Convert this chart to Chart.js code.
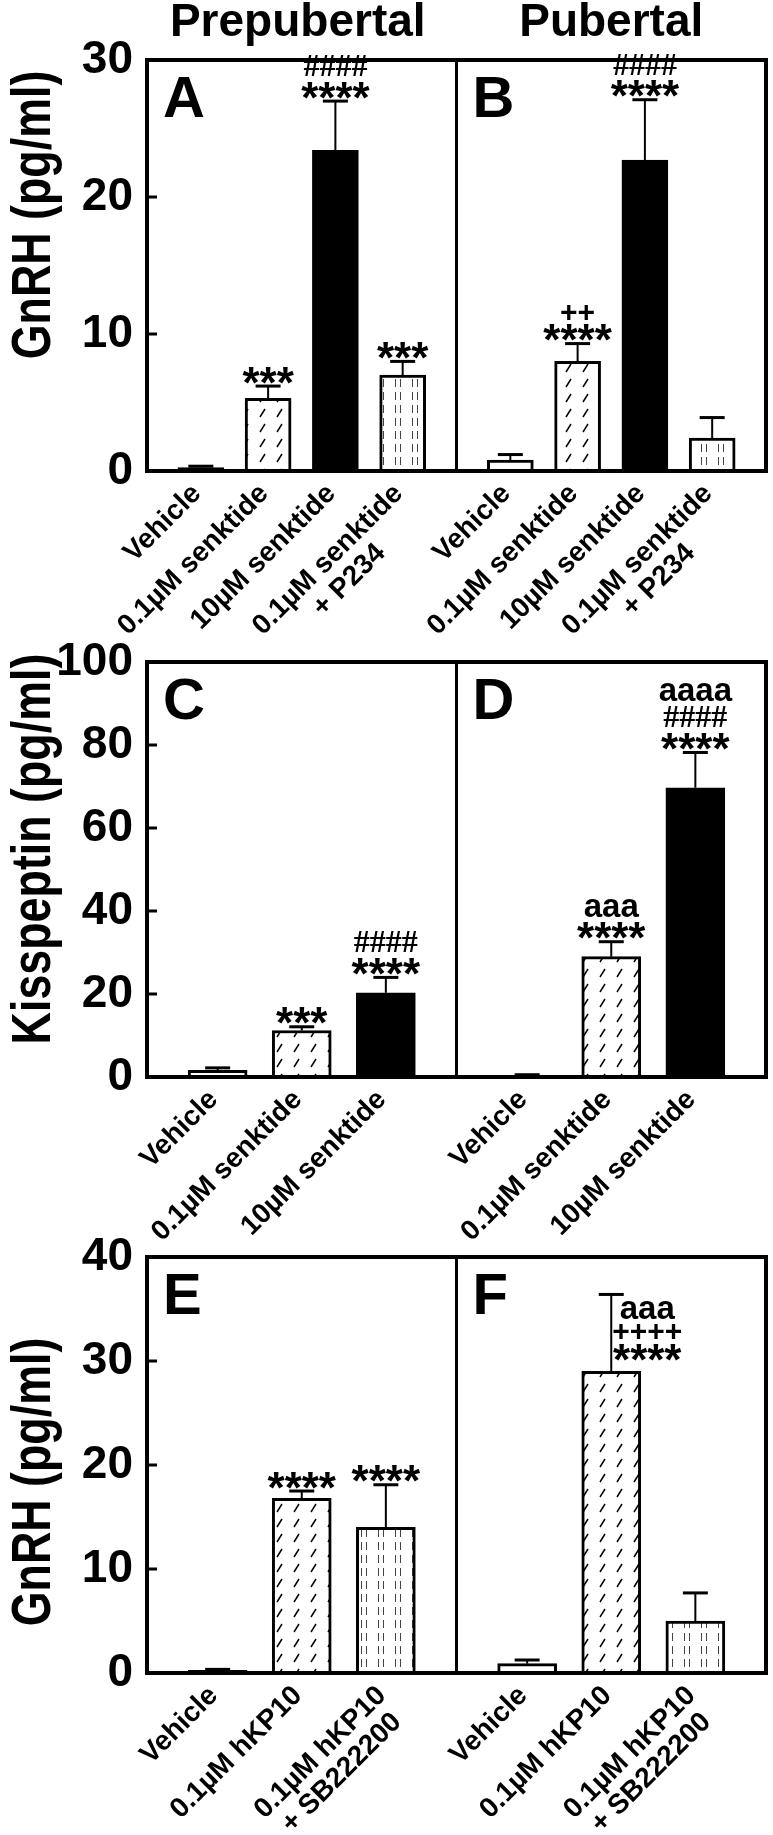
<!DOCTYPE html>
<html>
<head>
<meta charset="utf-8">
<script src="https://cdn.jsdelivr.net/npm/chart.js@4.4.1/dist/chart.umd.min.js"></script>
<style>
  html, body { margin: 0; padding: 0; background: #fff; }
  #wrap { position: relative; width: 773px; height: 1835px; overflow: hidden; }
  .row { position: absolute; left: 0; width: 773px; }
</style>
</head>
<body>
<div id="wrap">
  <div class="row" style="top:0px;height:660px"><canvas id="rowAB"></canvas></div>
  <div class="row" style="top:620px;height:660px"><canvas id="rowCD"></canvas></div>
  <div class="row" style="top:1215px;height:620px"><canvas id="rowEF"></canvas></div>
</div>
<script>
// ---- tick labels ----
var yTicksAB = [0, 10, 20, 30];
var yTicksCD = [0, 20, 40, 60, 80, 100];
var yTicksEF = [0, 10, 20, 30, 40];

// ---- categories ----
var senktideLabels = [['Vehicle'], ['0.1µM senktide'], ['10µM senktide'], ['0.1µM senktide', '+ P234']];
var kissLabels = [['Vehicle'], ['0.1µM senktide'], ['10µM senktide']];
var kp10Labels = [['Vehicle'], ['0.1µM hKP10'], ['0.1µM hKP10', '+ SB222200']];

// ---- A / B : GnRH, senktide ----
var gnrhPrepubSenk = [0.25, 5.3, 23.4, 7.0];
var gnrhPrepubSenkErr = [0.1, 0.9, 3.6, 1.0];
var gnrhPubSenk = [0.8, 8.0, 22.7, 2.4];
var gnrhPubSenkErr = [0.4, 1.3, 4.4, 1.5];
var sigPrepubSenk = [[], ['***'], ['****', '####'], ['***']];
var sigPubSenk = [[], ['****', '++'], ['****', '####'], []];

// ---- C / D : kisspeptin, senktide ----
var kissPrepub = [1.6, 11.2, 20.3];
var kissPrepubErr = [0.6, 0.9, 3.7];
var kissPub = [0.4, 29.0, 69.7];
var kissPubErr = [0.15, 3.6, 8.5];
var sigPrepubKiss = [[], ['***'], ['****', '####']];
var sigPubKiss = [[], ['****', 'aaa'], ['****', '####', 'aaaa']];

// ---- E / F : GnRH, hKP10 ----
var gnrhPrepubKp = [0.25, 16.8, 14.0];
var gnrhPrepubKpErr = [0.1, 0.7, 4.1];
var gnrhPubKp = [0.9, 29.0, 5.0];
var gnrhPubKpErr = [0.35, 7.4, 2.7];
var sigPrepubKp = [[], ['****'], ['****']];
var sigPubKp = [[], ['****', '++++', 'aaa'], []];
var besidePubKp = [false, true, false];

var FONT = '"Liberation Sans", Arial, Helvetica, sans-serif';
Chart.defaults.font.family = FONT;
Chart.defaults.color = '#000';

function makeSlash() {
    var c = document.createElement('canvas');
    c.width = 17; c.height = 15;
    var g = c.getContext('2d');
    g.fillStyle = '#fff'; g.fillRect(0, 0, 17, 15);
    g.strokeStyle = '#000'; g.lineWidth = 1.5;
    g.beginPath(); g.moveTo(5, 12); g.lineTo(10, 4); g.stroke();
    return g.createPattern(c, 'repeat');
}
function makeDash() {
    var c = document.createElement('canvas');
    c.width = 17; c.height = 13;
    var g = c.getContext('2d');
    g.fillStyle = '#fff'; g.fillRect(0, 0, 17, 13);
    g.strokeStyle = '#444'; g.lineWidth = 1;
    g.beginPath();
    g.moveTo(4.5, 2); g.lineTo(4.5, 10);
    g.moveTo(9.5, 2); g.lineTo(9.5, 10);
    g.stroke();
    return g.createPattern(c, 'repeat');
}
var fillMap = { open: '#fff', slash: makeSlash(), solid: '#000', dash: makeDash() };

var measure = document.createElement('canvas').getContext('2d');
function labelText(lines) {
    if (lines.length < 2) return lines[0];
    measure.font = 'bold 28px ' + FONT;
    var w0 = measure.measureText(lines[0]).width;
    var w1 = measure.measureText(lines[1]).width;
    var sp = measure.measureText(' ').width;
    var n = Math.max(0, Math.round((w0 - w1) / 2 / sp));
    return [lines[0], lines[1] + ' '.repeat(n)];
}

// mark styles: font, glyph bottom / top above baseline (em)
function markStyle(s) {
    if (s[0] == '*') return { font: 'bold 44px ' + FONT, size: 44, bot: 0.40, top: 0.72 };
    if (s[0] == '#') return { font: 'bold 32px "Liberation Serif", serif', size: 32, bot: 0.0, top: 0.66 };
    if (s[0] == '+') return { font: 'bold 30px ' + FONT, size: 30, bot: 0.10, top: 0.58 };
    return { font: 'bold 33px ' + FONT, size: 33, bot: 0.0, top: 0.53 };
}

var panelDeco = {
    id: 'panelDeco',
    afterDatasetsDraw: function (chart) {
        var ctx = chart.ctx;
        var ys = chart.scales.y;
        var ds = chart.data.datasets[0];
        var meta = chart.getDatasetMeta(0);
        ctx.save();
        ctx.strokeStyle = '#000';
        ctx.fillStyle = '#000';
        meta.data.forEach(function (bar, i) {
            var v = ds.data[i].y;
            var topY = ys.getPixelForValue(v);
            var capY = ys.getPixelForValue(v + ds.errors[i]);
            ctx.lineWidth = 2;
            ctx.beginPath(); ctx.moveTo(bar.x, topY); ctx.lineTo(bar.x, capY); ctx.stroke();
            ctx.lineWidth = 3;
            ctx.beginPath(); ctx.moveTo(bar.x - 12.5, capY); ctx.lineTo(bar.x + 12.5, capY); ctx.stroke();

            var marks = ds.marks[i];
            var beside = ds.beside[i];
            var y = beside ? topY - 14 : capY - 6;
            var x = beside ? bar.x + 36 : bar.x;
            ctx.textAlign = 'center';
            ctx.textBaseline = 'alphabetic';
            for (var k = 0; k < marks.length; k++) {
                var st = markStyle(marks[k]);
                var base = y + st.bot * st.size;
                ctx.font = st.font;
                ctx.fillText(marks[k], x, base);
                y = base - st.top * st.size - 5;
            }
        });
        ctx.restore();
    },
    afterDraw: function (chart) {
        var o = chart.options.plugins.panelDeco;
        var ctx = chart.ctx;
        var a = chart.chartArea;
        var xs = chart.scales.x, ys = chart.scales.y;
        ctx.save();
        ctx.strokeStyle = '#000';
        ctx.lineWidth = 4;
        ctx.strokeRect(a.left, a.top, a.right - a.left, a.bottom - a.top);
        var mid = xs.getPixelForValue(o.panelUnits);
        ctx.lineWidth = 3;
        ctx.beginPath(); ctx.moveTo(mid, a.top); ctx.lineTo(mid, a.bottom); ctx.stroke();
        ys.ticks.forEach(function (t) {
            if (t.value == ys.min || t.value == ys.max) return;
            var py = ys.getPixelForValue(t.value);
            ctx.beginPath(); ctx.moveTo(a.left, py); ctx.lineTo(a.left + 10, py); ctx.stroke();
        });
        ctx.fillStyle = '#000';
        ctx.textAlign = 'left';
        ctx.textBaseline = 'alphabetic';
        ctx.font = 'bold 58px ' + FONT;
        ctx.fillText(o.letters[0], a.left + 16, a.top + 57);
        ctx.fillText(o.letters[1], mid + 16, a.top + 57);
        if (o.titles) {
            ctx.textAlign = 'center';
            ctx.font = 'bold 46px ' + FONT;
            ctx.fillText(o.titles[0], (a.left + mid) / 2 - 4, 36);
            ctx.fillText(o.titles[1], (mid + a.right) / 2, 36);
        }
        // y axis title, tall and narrow like the original
        ctx.save();
        ctx.translate(50, o.yTitleCenter);
        ctx.rotate(-Math.PI / 2);
        ctx.scale(0.8, 1);
        ctx.textAlign = 'center';
        ctx.font = 'bold 56px ' + FONT;
        ctx.fillText(o.yTitle, 0, 0);
        ctx.restore();
        ctx.restore();
    }
};

function makeRow(cfg) {
    var n = cfg.labels.length;
    var pos = [];
    for (var p = 0; p < 2; p++) {
        for (var i = 0; i < n; i++) {
            pos.push(p * cfg.panelUnits + (cfg.panelUnits - (n - 1)) / 2 + i);
        }
    }
    var vals = cfg.left.concat(cfg.right);
    var errs = cfg.leftErr.concat(cfg.rightErr);
    var marks = cfg.leftSig.concat(cfg.rightSig);
    var beside = (cfg.leftBeside || cfg.left.map(function () { return false; }))
        .concat(cfg.rightBeside || cfg.right.map(function () { return false; }));
    var fills = cfg.fills.concat(cfg.fills).map(function (f) { return fillMap[f]; });
    var yTicks = cfg.yTicks;

    return new Chart(document.getElementById(cfg.canvas), {
        type: 'bar',
        data: {
            datasets: [{
                data: pos.map(function (x, k) { return { x: x, y: vals[k] }; }),
                errors: errs,
                marks: marks,
                beside: beside,
                backgroundColor: fills,
                borderColor: '#000',
                borderWidth: 3,
                barThickness: cfg.barPx
            }]
        },
        options: {
            responsive: true,
            maintainAspectRatio: false,
            animation: false,
            layout: { padding: { top: cfg.padTop, right: 7, left: 0, bottom: 0 } },
            plugins: {
                legend: { display: false },
                tooltip: { enabled: false },
                panelDeco: {
                    panelUnits: cfg.panelUnits, letters: cfg.letters, titles: cfg.titles,
                    yTitle: cfg.yTitle, yTitleCenter: cfg.yTitleCenter
                }
            },
            scales: {
                x: {
                    type: 'linear',
                    offset: false,
                    min: 0,
                    max: 2 * cfg.panelUnits,
                    afterBuildTicks: function (s) { s.ticks = pos.map(function (v) { return { value: v }; }); },
                    afterFit: function (s) { s.height = cfg.axisHeight; },
                    grid: { display: false, drawTicks: false },
                    border: { display: false },
                    ticks: {
                        autoSkip: false,
                        minRotation: 45,
                        maxRotation: 45,
                        padding: 8,
                        labelOffset: -4,
                        font: { size: 28, weight: 'bold', lineHeight: 1.05 },
                        color: '#000',
                        callback: function (value, index) { return labelText(cfg.labels[index % n]); }
                    }
                },
                y: {
                    min: 0,
                    max: yTicks[yTicks.length - 1],
                    afterBuildTicks: function (s) { s.ticks = yTicks.map(function (v) { return { value: v }; }); },
                    afterFit: function (s) { s.width = 147; },
                    grid: { display: false, drawTicks: false },
                    border: { display: false },
                    ticks: { font: { size: 46, weight: 'bold' }, color: '#000', padding: 14 },
                    title: { display: false, text: cfg.yTitle }
                }
            }
        },
        plugins: [panelDeco]
    });
}

makeRow({
    canvas: 'rowAB', labels: senktideLabels,
    left: gnrhPrepubSenk, leftErr: gnrhPrepubSenkErr, leftSig: sigPrepubSenk,
    right: gnrhPubSenk, rightErr: gnrhPubSenkErr, rightSig: sigPubSenk,
    fills: ['open', 'slash', 'solid', 'dash'],
    yTicks: yTicksAB, yTitle: 'GnRH (pg/ml)', yTitleCenter: 215,
    padTop: 60, axisHeight: 189, panelUnits: 4.6, barPx: 46,
    letters: ['A', 'B'], titles: ['Prepubertal', 'Pubertal']
});

makeRow({
    canvas: 'rowCD', labels: kissLabels,
    left: kissPrepub, leftErr: kissPrepubErr, leftSig: sigPrepubKiss,
    right: kissPub, rightErr: kissPubErr, rightSig: sigPubKiss,
    fills: ['open', 'slash', 'solid'],
    yTicks: yTicksCD, yTitle: 'Kisspeptin (pg/ml)', yTitleCenter: 229,
    padTop: 42, axisHeight: 203, panelUnits: 3.68, barPx: 59,
    letters: ['C', 'D']
});

makeRow({
    canvas: 'rowEF', labels: kp10Labels,
    left: gnrhPrepubKp, leftErr: gnrhPrepubKpErr, leftSig: sigPrepubKp,
    right: gnrhPubKp, rightErr: gnrhPubKpErr, rightSig: sigPubKp, rightBeside: besidePubKp,
    fills: ['open', 'slash', 'dash'],
    yTicks: yTicksEF, yTitle: 'GnRH (pg/ml)', yTitleCenter: 267,
    padTop: 42, axisHeight: 162, panelUnits: 3.68, barPx: 59,
    letters: ['E', 'F']
});
</script>
</body>
</html>
